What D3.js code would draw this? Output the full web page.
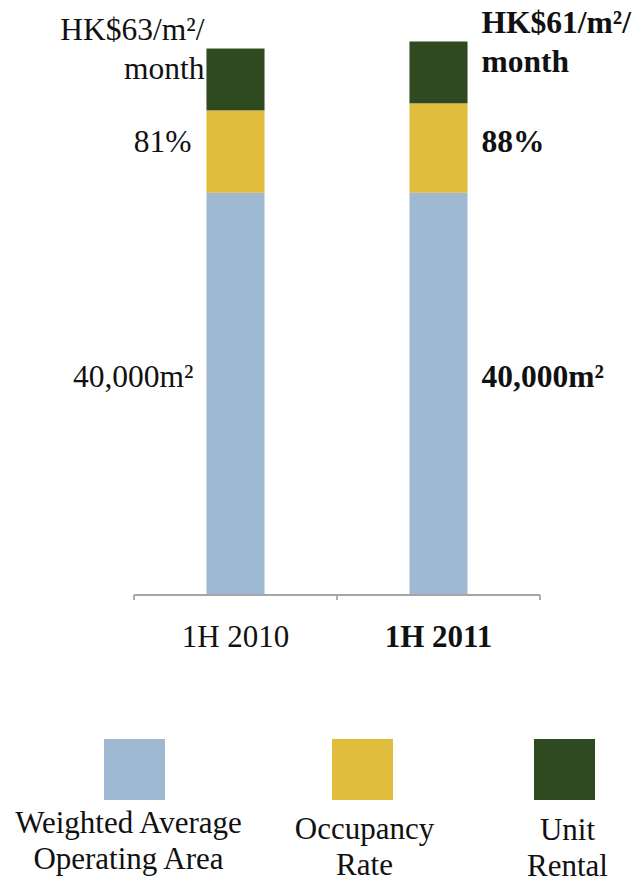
<!DOCTYPE html>
<html>
<head>
<meta charset="utf-8">
<script src="https://cdn.jsdelivr.net/npm/d3@7"></script>
<style>
  html, body { margin: 0; padding: 0; background: #fff; }
  svg text { font-family: "Liberation Serif", "Times New Roman", serif; fill: #111; }
</style>
</head>
<body>
<svg id="chart" width="635" height="883"></svg>
<script>
// data
var categories = ['1H 2010', '1H 2011']
var seriesNames = ['Weighted Average Operating Area', 'Occupancy Rate', 'Unit Rental']
var legendLines = [['Weighted Average', 'Operating Area'], ['Occupancy', 'Rate'], ['Unit', 'Rental']]

// segment heights (index units as drawn)
var areaValues = [400, 400]
var occupancyValues = [82, 89]
var rentalValues = [61.5, 61.5]

// labels shown next to the segments
var areaLabels = ['40,000m²', '40,000m²']
var occupancyLabels = ['81%', '88%']
var rentalLabels = [['HK$63/m²/', 'month'], ['HK$61/m²/', 'month']]

var colors = ['#a0b9d3', '#e0bd3c', '#2f4920']

var svg = d3.select('#chart')

var x = d3.scaleBand()
  .domain(categories)
  .range([134, 540])
  .paddingInner(0.714)
  .paddingOuter(0.357)

var y = d3.scaleLinear()
  .domain([0, 550])
  .range([595, 42])

// stack the three series per category
var rows = categories.map(function (c, i) {
  return { cat: c, area: areaValues[i], occ: occupancyValues[i], rent: rentalValues[i] }
})
var stack = d3.stack().keys(['area', 'occ', 'rent'])
var layers = stack(rows)

var g = svg.append('g')

g.selectAll('.layer')
  .data(layers)
  .enter()
  .append('g')
  .attr('class', 'layer')
  .attr('fill', function (d, i) { return colors[i] })
  .selectAll('rect')
  .data(function (d) { return d })
  .enter()
  .append('rect')
  .attr('x', function (d) { return x(d.data.cat) })
  .attr('y', function (d) { return y(d[1]) })
  .attr('width', x.bandwidth())
  .attr('height', function (d) { return y(d[0]) - y(d[1]) })

// axis: line with ticks at band boundaries
var axis = d3.axisBottom(x).tickSize(0).tickPadding(0)
var axisG = svg.append('g')
  .attr('transform', 'translate(0,' + y(0) + ')')
  .call(axis)
axisG.select('.domain').remove()
axisG.selectAll('.tick text')
  .attr('y', 52)
  .attr('dy', null)
  .style('font-size', '31px')
  .style('font-weight', function (d, i) { return i === 1 ? 'bold' : 'normal' })
  .attr('fill', '#111')

axisG.append('line')
  .attr('x1', x.range()[0]).attr('x2', x.range()[1])
  .attr('y1', 0).attr('y2', 0)
  .attr('stroke', '#a6a6a6').attr('stroke-width', 1.8)
d3.range(categories.length + 1).forEach(function (k) {
  var tx = x.range()[0] + k * x.step()
  axisG.append('line')
    .attr('x1', tx).attr('x2', tx)
    .attr('y1', 0).attr('y2', 5)
    .attr('stroke', '#a6a6a6').attr('stroke-width', 1.8)
})

// segment labels
function labelX (i) {
  return i === 0 ? x(categories[i]) : x(categories[i]) + x.bandwidth() + 14
}
function addLabel (i, gap, yy, txt) {
  svg.append('text')
    .attr('x', i === 0 ? labelX(i) - gap : labelX(i))
    .attr('y', yy)
    .attr('text-anchor', i === 0 ? 'end' : 'start')
    .style('font-size', '31.5px')
    .style('font-weight', i === 1 ? 'bold' : 'normal')
    .text(txt)
}

categories.forEach(function (c, i) {
  var a = layers[0][i], o = layers[1][i], r = layers[2][i]
  var aMid = (y(a[0]) + y(a[1])) / 2
  var oMid = (y(o[0]) + y(o[1])) / 2
  var rMid = (y(r[0]) + y(r[1])) / 2
  addLabel(i, 13, aMid - 7, areaLabels[i])
  addLabel(i, 15, i === 0 ? oMid : oMid + 3.5, occupancyLabels[i])
  addLabel(i, 2, rMid - 39, rentalLabels[i][0])
  addLabel(i, 2, rMid, rentalLabels[i][1])
})

// legend
var legendX = [104, 332, 534]
var legendTextDx = [-6, 2, 3]
var legendBase = [833, 839, 840]
var sw = 61

var legend = svg.selectAll('.legend')
  .data(seriesNames)
  .enter()
  .append('g')
  .attr('class', 'legend')

legend.append('rect')
  .attr('x', function (d, i) { return legendX[i] })
  .attr('y', 739)
  .attr('width', sw)
  .attr('height', sw)
  .attr('fill', function (d, i) { return colors[i] })

legend.each(function (d, i) {
  var t = d3.select(this).append('text')
    .attr('text-anchor', 'middle')
    .style('font-size', '31px')
  legendLines[i].forEach(function (line, j) {
    t.append('tspan')
      .attr('x', legendX[i] + sw / 2 + legendTextDx[i])
      .attr('y', legendBase[i] + j * 36)
      .text(line)
  })
})
</script>
</body>
</html>
